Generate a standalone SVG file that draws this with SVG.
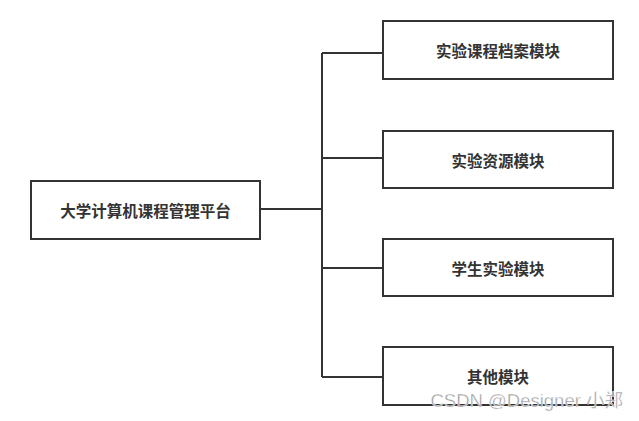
<svg xmlns="http://www.w3.org/2000/svg" width="639" height="421" viewBox="0 0 639 421">
<style>
.box{fill:#fff;stroke:#333;stroke-width:2}
.lbl{font-family:"Noto Sans CJK SC","Liberation Sans",sans-serif;font-size:15.5px;font-weight:bold;fill:#333;text-anchor:middle;dominant-baseline:central}
.conn{fill:none;stroke:#333;stroke-width:2}
.wm{font-family:"Liberation Sans","Noto Sans CJK SC",sans-serif;font-size:18.5px;fill:#9a9a9a;stroke:#fff;stroke-width:0.4;text-anchor:end}
</style>
<rect width="639" height="421" fill="#fff"/>
<g id="connectors">
<path class="conn" d="M260 209 H322"/>
<path class="conn" d="M322 53 V377"/>
<path class="conn" d="M322 53 H383"/>
<path class="conn" d="M322 158 H383"/>
<path class="conn" d="M322 268 H383"/>
<path class="conn" d="M322 377 H383"/>
</g>
<g id="root">
<rect class="box" x="31" y="181" width="229" height="58"/>
<text class="lbl" x="145.5" y="210">大学计算机课程管理平台</text>
</g>
<g id="archive">
<rect class="box" x="383" y="21" width="230" height="58"/>
<text class="lbl" x="498" y="50">实验课程档案模块</text>
</g>
<g id="resource">
<rect class="box" x="383" y="131" width="230" height="57"/>
<text class="lbl" x="498" y="159.5">实验资源模块</text>
</g>
<g id="student">
<rect class="box" x="383" y="239" width="230" height="57"/>
<text class="lbl" x="498" y="267.5">学生实验模块</text>
</g>
<g id="other">
<rect class="box" x="383" y="347" width="230" height="58"/>
<text class="lbl" x="498" y="376">其他模块</text>
</g>
<text class="wm" x="623" y="407">CSDN @Designer 小郑</text>
</svg>
